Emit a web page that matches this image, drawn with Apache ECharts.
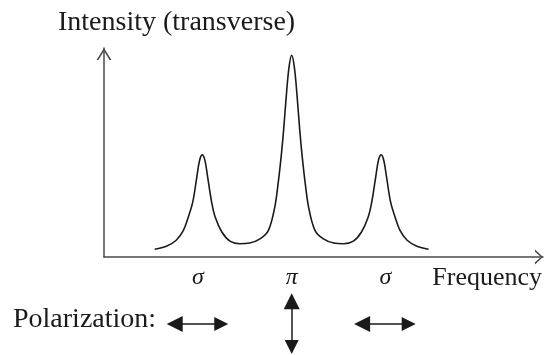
<!DOCTYPE html>
<html>
<head>
<meta charset="utf-8">
<script src="https://cdn.jsdelivr.net/npm/echarts@6/dist/echarts.min.js"></script>
<style>
  html, body { margin: 0; padding: 0; background: #fff; }
  #chart { width: 547px; height: 355px; }
</style>
</head>
<body>
<div id="chart"></div>
<script>
// frequency in units of the Zeeman splitting (sigma lines at -1 and +1)
const freq = [-1.53, -1.40, -1.29, -1.21, -1.155, -1.105, -1.06, -1.03, -1.0, -0.97, -0.94, -0.895, -0.855,
  -0.78, -0.69, -0.58, -0.47, -0.35, -0.26, -0.19, -0.15, -0.117, -0.09, -0.06, -0.03, 0,
  0.03, 0.06, 0.09, 0.117, 0.15, 0.19, 0.26, 0.35, 0.47, 0.58, 0.69, 0.78,
  0.855, 0.895, 0.94, 0.97, 1.0, 1.03, 1.06, 1.105, 1.155, 1.21, 1.29, 1.40, 1.53];
// relative intensity (pi line = 1)
const intensity = [0.038, 0.053, 0.083, 0.132, 0.198, 0.273, 0.396, 0.477, 0.506, 0.48, 0.40, 0.273, 0.198,
  0.124, 0.079, 0.066, 0.069, 0.091, 0.132, 0.245, 0.37, 0.5, 0.63, 0.80, 0.94, 1.0,
  0.94, 0.80, 0.63, 0.5, 0.37, 0.245, 0.132, 0.091, 0.069, 0.066, 0.079, 0.124,
  0.198, 0.273, 0.40, 0.48, 0.506, 0.477, 0.396, 0.273, 0.198, 0.132, 0.083, 0.053, 0.038];

// components and their polarization
const lineNames = ["σ", "π", "σ"];
const linePos = [-1.047, 0, 1.047];
const polarDir = ["h", "v", "h"];
const polarLevel = -0.332;

const serif = "'Liberation Serif', 'DejaVu Serif', serif";
const ink = "#1a1a1a";
const axisColor = "#4a4a4a";

const chart = echarts.init(document.getElementById("chart"));

// double-headed arrows, built from the component positions
const arrowData = linePos.map((p, i) => {
  if (polarDir[i] === "h") {
    return { coords: [[p - 0.26, polarLevel], [p + 0.26, polarLevel]] };
  }
  return { coords: [[p, polarLevel + 0.113], [p, polarLevel - 0.114]] };
});

const option = {
  animation: false,
  title: {
    text: "Intensity (transverse)",
    left: 58,
    top: 9,
    padding: 0,
    textStyle: { fontFamily: serif, fontSize: 28, fontWeight: "normal", color: ink }
  },
  grid: { left: 104, right: 4, top: 48, bottom: 98 },
  xAxis: {
    type: "value",
    min: -2.097,
    max: 2.808,
    name: "Frequency",
    nameLocation: "end",
    nameGap: -1,
    nameTextStyle: {
      fontFamily: serif, fontSize: 26, color: ink,
      align: "right", verticalAlign: "top", padding: [8, 0, 0, 0]
    },
    axisLine: {
      onZero: false,
      symbol: ["none", "path://M0,8L7.5,0L15,8L12.8,8L7.5,2L2.2,8Z"],
      symbolSize: [15, 8],
      symbolOffset: [0, -4],
      lineStyle: { color: axisColor, width: 1.5 }
    },
    axisTick: { show: false },
    splitLine: { show: false },
    axisLabel: {
      customValues: linePos,
      formatter: (v) => lineNames[linePos.indexOf(v)] || "",
      fontFamily: serif,
      fontStyle: "italic",
      fontSize: 24,
      color: ink,
      margin: 9
    }
  },
  yAxis: {
    type: "value",
    min: 0,
    max: 1.036,
    axisLine: {
      show: true,
      onZero: false,
      symbol: ["none", "path://M0,12L7.5,0L15,12L13.1,12L7.5,2.9L1.9,12Z"],
      symbolSize: [15, 12],
      symbolOffset: [0, -6],
      lineStyle: { color: axisColor, width: 1.5 }
    },
    axisTick: { show: false },
    splitLine: { show: false },
    axisLabel: { show: false }
  },
  graphic: [
    {
      type: "text",
      left: 13,
      top: 306,
      style: { text: "Polarization:", font: "28px " + serif, fill: ink }
    }
  ],
  series: [
    {
      name: "Intensity",
      type: "line",
      data: freq.map((f, i) => [f, intensity[i]]),
      smooth: 0.35,
      showSymbol: false,
      lineStyle: { color: ink, width: 1.6 }
    },
    {
      name: "Polarization",
      type: "lines",
      coordinateSystem: "cartesian2d",
      clip: false,
      symbol: ["triangle", "triangle"],
      symbolSize: [16, 14],
      lineStyle: { color: ink, width: 1.5, opacity: 1 },
      data: arrowData
    }
  ]
};

chart.setOption(option);
</script>
</body>
</html>
